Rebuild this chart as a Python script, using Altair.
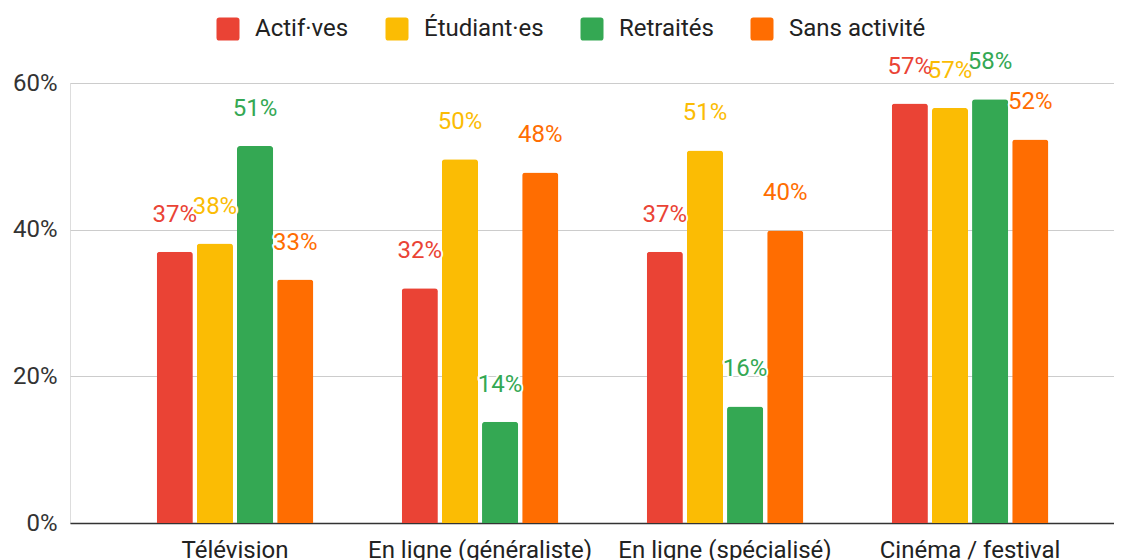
import altair as alt
import pandas as pd

categories = ["Télévision", "En ligne (généraliste)", "En ligne (spécialisé)", "Cinéma / festival"]
series = ["Actif·ves", "Étudiant·es", "Retraités", "Sans activité"]
colors = ["#EA4335", "#FBBC04", "#34A853", "#FF6D01"]

actifs = [0.370, 0.320, 0.370, 0.572]
etudiants = [0.381, 0.496, 0.508, 0.566]
retraites = [0.514, 0.138, 0.159, 0.578]
sans_activite = [0.332, 0.478, 0.399, 0.523]

y_ticks = [0, 0.2, 0.4, 0.6]

rows = []
for s, vals in zip(series, [actifs, etudiants, retraites, sans_activite]):
    for c, v in zip(categories, vals):
        rows.append({"cat": c, "series": s, "value": v})
df = pd.DataFrame(rows)

FONT = "Roboto"

rounded_square = "M-0.75,-1 L0.75,-1 Q1,-1 1,-0.75 L1,0.75 Q1,1 0.75,1 L-0.75,1 Q-1,1 -1,0.75 L-1,-0.75 Q-1,-1 -0.75,-1 Z"

x_enc = alt.X(
    "cat:N", sort=categories, title=None,
    scale=alt.Scale(paddingInner=0.361, paddingOuter=0.311, align=0.569),
    axis=alt.Axis(labelAngle=0, labelFontSize=24, labelFont=FONT, labelColor="#222222",
                  labelPadding=15, tickSize=0, ticks=False, domainColor="#333333",
                  domainWidth=1.5, grid=False, labelLimit=500),
)
xo_enc = alt.XOffset("series:N", sort=series, scale=alt.Scale(paddingInner=0.1, paddingOuter=0))
y_enc = alt.Y(
    "value:Q", title=None,
    scale=alt.Scale(domain=[0, 0.6], nice=False),
    axis=alt.Axis(values=y_ticks, format=".0%", labelFontSize=24, labelFont=FONT,
                  labelColor="#333333", labelPadding=13, tickSize=0, ticks=False,
                  domain=False, grid=True, gridColor="#cccccc", gridWidth=1),
)
color_scale = alt.Scale(domain=series, range=colors)

bars = alt.Chart(df).mark_bar(cornerRadiusTopLeft=3, cornerRadiusTopRight=3).encode(
    x=x_enc, xOffset=xo_enc, y=y_enc,
    color=alt.Color("series:N", sort=series, scale=color_scale, title=None,
                    legend=alt.Legend(orient="none", legendX=146, legendY=-66,
                                      direction="horizontal", symbolType=rounded_square,
                                      symbolSize=529, symbolStrokeWidth=0,
                                      labelFontSize=24, labelFont=FONT, labelColor="#222222",
                                      labelOffset=15, columnPadding=36, padding=0,
                                      labelLimit=300)),
)

halo = alt.Chart(df).mark_text(
    font=FONT, fontSize=24, baseline="alphabetic", dy=-30,
    stroke="white", strokeWidth=4, fill="white", strokeJoin="round",
).encode(
    x=alt.X("cat:N", sort=categories), xOffset=xo_enc, y=alt.Y("value:Q"),
    text=alt.Text("value:Q", format=".0%"),
)

labels = alt.Chart(df).mark_text(
    font=FONT, fontSize=24, baseline="alphabetic", dy=-30,
).encode(
    x=alt.X("cat:N", sort=categories), xOffset=xo_enc, y=alt.Y("value:Q"),
    text=alt.Text("value:Q", format=".0%"),
    color=alt.Color("series:N", sort=series, scale=color_scale, legend=None),
)

chart = alt.layer(bars, halo, labels).properties(
    width=1044, height=440,
    autosize=alt.AutoSizeParams(type="none"),
    padding={"left": 62, "top": 75, "right": 0, "bottom": 45},
).configure_view(stroke=None).configure(background="white")

chart.save("out.html", embed_options={"renderer": "svg", "actions": False})
